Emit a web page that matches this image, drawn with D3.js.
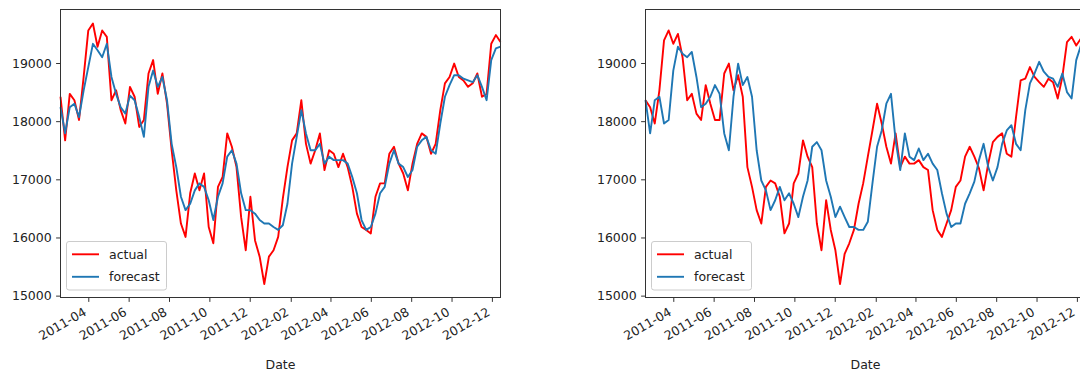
<!DOCTYPE html>
<html>
<head>
<meta charset="utf-8">
<script src="https://cdn.jsdelivr.net/npm/d3@7"></script>
<style>
  body { margin: 0; background: #fff; }
  svg { display: block; font-family: "DejaVu Sans", sans-serif; }
</style>
</head>
<body>
<svg id="chart" width="1080" height="378"></svg>
<script>
// weekly samples, first one on startDate
const startDate = "2011-02-18";

const actualA = [
  18420, 17670, 18470, 18360, 18020, 18760, 19560, 19680, 19280, 19560,
  19450, 18360, 18530, 18190, 17960, 18590, 18420, 17900, 18020, 18820,
  19050, 18470, 18820, 18300, 17500, 16810, 16240, 16010, 16760, 17100,
  16810, 17100, 16180, 15900, 16870, 17040, 17790, 17560, 17210, 16350,
  15780, 16700, 15950, 15670, 15200, 15670, 15780, 16010, 16670, 17210,
  17670, 17790, 18360, 17610, 17270, 17500, 17790, 17160, 17500, 17440,
  17210, 17440, 17210, 16870, 16410, 16180, 16130, 16070, 16700, 16930,
  16930, 17440, 17560, 17270, 17100, 16810, 17270, 17610, 17790, 17730,
  17440, 17610, 18190, 18650, 18760, 18990, 18760, 18700, 18590, 18650,
  18820, 18420, 18470, 19330, 19480, 19360
];

const forecastA = [
  18240, 17790, 18240, 18300, 18070, 18530, 18930, 19330, 19220, 19100,
  19330, 18760, 18470, 18240, 18130, 18440, 18360, 18070, 17730, 18590,
  18870, 18590, 18760, 18360, 17610, 17210, 16700, 16470, 16580, 16810,
  16930, 16870, 16640, 16300, 16700, 16930, 17390, 17500, 17270, 16760,
  16470, 16470, 16410, 16300, 16240, 16240, 16180, 16130, 16210, 16580,
  17270, 17730, 18190, 17790, 17500, 17500, 17610, 17270, 17390, 17330,
  17330, 17330, 17270, 17040, 16760, 16300, 16130, 16180, 16410, 16760,
  16870, 17270, 17500, 17270, 17210, 17040, 17160, 17560, 17670, 17730,
  17500, 17440, 17960, 18420, 18620, 18790, 18790, 18730, 18700, 18670,
  18790, 18590, 18360, 19050, 19250, 19280
];

const actualB = [
  18360, 18240, 17960, 18530, 19390, 19560, 19330, 19500, 19100, 18360,
  18470, 18130, 18020, 18620, 18300, 18020, 18020, 18820, 18990, 18530,
  18790, 18420, 17210, 16870, 16470, 16240, 16870, 16980, 16930, 16700,
  16070, 16240, 16930, 17100, 17670, 17390, 17210, 16240, 15780, 16640,
  16130, 15780, 15200, 15720, 15900, 16130, 16580, 16930, 17390, 17840,
  18300, 17960, 17560, 17270, 17790, 17210, 17390, 17270, 17270, 17330,
  17210, 17160, 16470, 16130, 16010, 16240, 16470, 16870, 16980, 17390,
  17560, 17390, 17190, 16810, 17270, 17640, 17730, 17790, 17440, 17390,
  18070, 18700, 18730, 18930, 18760, 18670, 18590, 18730, 18670, 18390,
  18760, 19360, 19450, 19300, 19420, 19420
];

const forecastB = [
  18360, 17790, 18360, 18420, 17960, 18020, 18870, 19280, 19160, 19100,
  19190, 18760, 18240, 18300, 18420, 18620, 18470, 17790, 17500, 18420,
  18990, 18620, 18760, 18420, 17500, 16980, 16810, 16470, 16640, 16870,
  16640, 16760, 16580, 16350, 16700, 16980, 17560, 17640, 17500, 16980,
  16700, 16350, 16530, 16350, 16180, 16180, 16130, 16130, 16270, 16930,
  17560, 17840, 18300, 18470, 17670, 17160, 17790, 17390, 17330, 17530,
  17330, 17440, 17270, 17160, 16760, 16410, 16180, 16240, 16240, 16580,
  16760, 16960, 17330, 17610, 17210, 16980, 17210, 17610, 17840, 17930,
  17610, 17500, 18190, 18650, 18820, 19020, 18850, 18760, 18730, 18590,
  18820, 18500, 18390, 19050, 19300, 19330
];

const tickMonths = [
  "2011-04", "2011-06", "2011-08", "2011-10", "2011-12",
  "2012-02", "2012-04", "2012-06", "2012-08", "2012-10", "2012-12"
];
const yTicks = [15000, 16000, 17000, 18000, 19000];
const legendLabels = ["actual", "forecast"];

const parseDay = d3.timeParse("%Y-%m-%d");
const parseMonth = d3.timeParse("%Y-%m");
const dates = actualA.map((_, i) => d3.timeDay.offset(parseDay(startDate), 7 * i));

const svg = d3.select("#chart");
const fontSize = 12.5;
const tickLen = 4.4;
const panelW = 440, plotTop = 9.5, plotBottom = 297.5;
const colors = ["red", "#1f77b4"];
const panels = [
  { left: 60.5, series: [actualA, forecastA] },
  { left: 645.5, series: [actualB, forecastB] }
];

const y = d3.scaleLinear().domain([14968, 19920]).range([plotBottom, plotTop]);

panels.forEach(p => {
  const x = d3.scaleTime()
    .domain(d3.extent(dates))
    .range([p.left, p.left + panelW]);
  const g = svg.append("g");

  const line = d3.line()
    .x((d, i) => x(dates[i]))
    .y(d => y(d));

  p.series.forEach((s, k) => {
    g.append("path")
      .datum(s)
      .attr("fill", "none")
      .attr("stroke", colors[k])
      .attr("stroke-width", 1.9)
      .attr("stroke-linejoin", "round")
      .attr("d", line);
  });

  g.append("rect")
    .attr("x", p.left)
    .attr("y", plotTop)
    .attr("width", panelW)
    .attr("height", plotBottom - plotTop)
    .attr("fill", "none")
    .attr("stroke", "#333")
    .attr("stroke-width", 1);

  const xAxis = g.append("g")
    .attr("transform", "translate(0," + plotBottom + ")")
    .call(d3.axisBottom(x)
      .tickValues(tickMonths.map(parseMonth))
      .tickFormat(d3.timeFormat("%Y-%m"))
      .tickSize(tickLen));
  xAxis.select(".domain").remove();
  xAxis.selectAll("line").attr("stroke", "#333");
  xAxis.selectAll("text")
    .attr("font-size", fontSize)
    .attr("font-family", "DejaVu Sans")
    .attr("fill", "#222")
    .attr("text-anchor", "end")
    .attr("y", 0)
    .attr("dy", 0)
    .attr("transform", "translate(-1.5," + (tickLen * 2 + 8.2) + ") rotate(-30)");

  const yAxis = g.append("g")
    .attr("transform", "translate(" + p.left + ",0)")
    .call(d3.axisLeft(y)
      .tickValues(yTicks)
      .tickFormat(d3.format("d"))
      .tickSize(tickLen)
      .tickPadding(4.4));
  yAxis.select(".domain").remove();
  yAxis.selectAll("line").attr("stroke", "#333");
  yAxis.selectAll("text")
    .attr("font-size", fontSize)
    .attr("font-family", "DejaVu Sans")
    .attr("fill", "#222");

  g.append("text")
    .attr("x", p.left + panelW / 2)
    .attr("y", 369)
    .attr("text-anchor", "middle")
    .attr("font-size", fontSize)
    .attr("fill", "#222")
    .text("Date");

  // legend, lower left
  const lg = g.append("g").attr("transform", "translate(" + (p.left + 6) + ",241.5)");
  lg.append("rect")
    .attr("width", 100)
    .attr("height", 48.5)
    .attr("rx", 2.5)
    .attr("fill", "#fff")
    .attr("fill-opacity", 0.8)
    .attr("stroke", "#ccc");
  const item = lg.selectAll("g.item")
    .data(legendLabels)
    .enter().append("g")
    .attr("class", "item")
    .attr("transform", (d, i) => "translate(0," + (12.8 + i * 22.5) + ")");
  item.append("line")
    .attr("x1", 5.5)
    .attr("x2", 32.5)
    .attr("stroke", (d, i) => colors[i])
    .attr("stroke-width", 1.9);
  item.append("text")
    .attr("x", 42.5)
    .attr("dy", "0.36em")
    .attr("font-size", fontSize)
    .attr("fill", "#222")
    .text(d => d);
});
</script>
</body>
</html>
